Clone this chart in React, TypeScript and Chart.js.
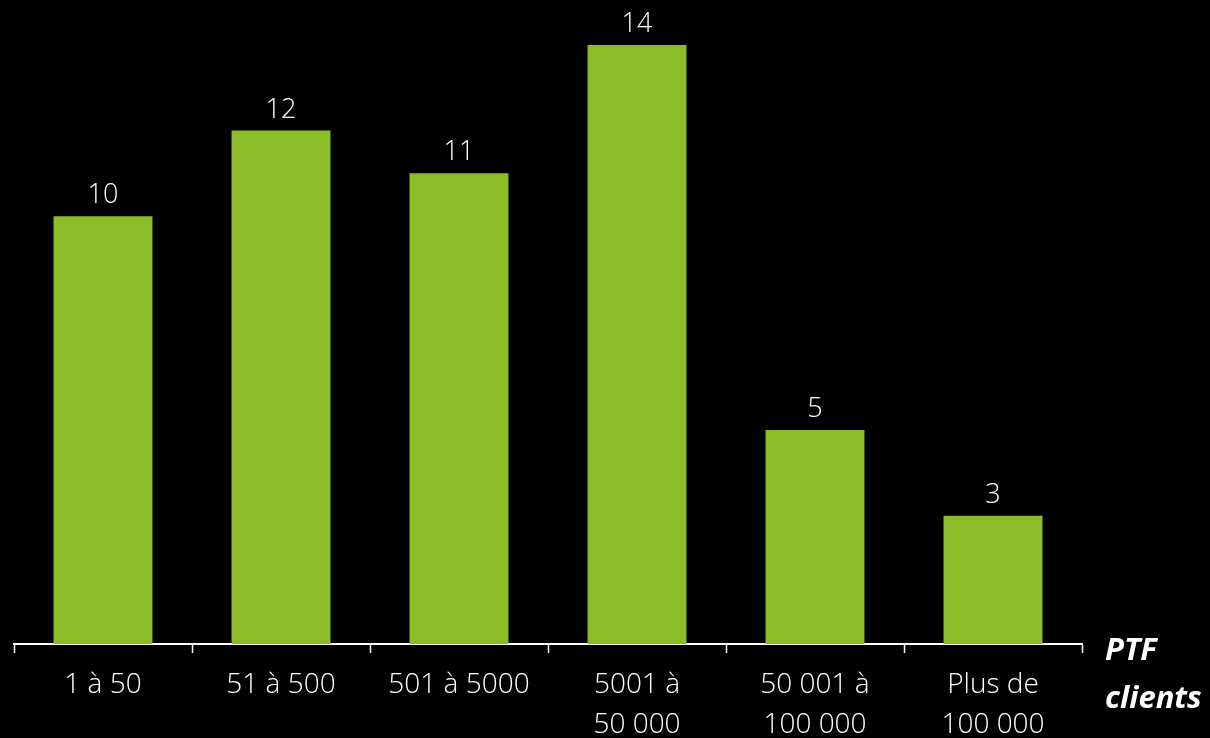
import React, { useEffect, useRef } from "react";
import { Chart, registerables } from "chart.js";

Chart.register(...registerables);

const categories: string[][] = [
  ["1 à 50"],
  ["51 à 500"],
  ["501 à 5000"],
  ["5001 à", "50 000"],
  ["50 001 à", "100 000"],
  ["Plus de", "100 000"],
];
const values: number[] = [10, 12, 11, 14, 5, 3];
const axisTitle: string[] = ["PTF", "clients"];

const FONT = "'Open Sans', 'DejaVu Sans', sans-serif";

const valueLabels = {
  id: "valueLabels",
  afterDatasetsDraw(chart: any) {
    const ctx = chart.ctx;
    const meta = chart.getDatasetMeta(0);
    ctx.save();
    ctx.fillStyle = "#ffffff";
    ctx.font = `300 27px ${FONT}`;
    ctx.textAlign = "center";
    ctx.textBaseline = "alphabetic";
    meta.data.forEach((bar: any, i: number) => {
      ctx.fillText(String(values[i]), bar.x, bar.y - 13);
    });
    ctx.restore();
  },
};

const axisTitlePlugin = {
  id: "axisTitlePlugin",
  afterDraw(chart: any) {
    const ctx = chart.ctx;
    const area = chart.chartArea;
    ctx.save();
    ctx.fillStyle = "#ffffff";
    ctx.font = `italic bold 31px ${FONT}`;
    ctx.textAlign = "left";
    ctx.textBaseline = "middle";
    ctx.fillText(axisTitle[0], area.right + 23, area.bottom + 7);
    ctx.fillText(axisTitle[1], area.right + 23, area.bottom + 55);
    ctx.restore();
  },
};

export default function App() {
  const ref = useRef<HTMLCanvasElement>(null);
  useEffect(() => {
    if (!ref.current) return;
    const chart = new Chart(ref.current, {
      type: "bar",
      data: {
        labels: categories,
        datasets: [
          {
            data: values,
            backgroundColor: "#8ABD28",
            borderWidth: 0,
            barPercentage: 1,
            categoryPercentage: 0.556,
          },
        ],
      },
      options: {
        animation: false,
        responsive: false,
        maintainAspectRatio: false,
        layout: { padding: { left: 14, right: 128, top: 45, bottom: 0 } },
        plugins: {
          legend: { display: false },
          tooltip: { enabled: false },
        },
        scales: {
          x: {
            afterFit: (scale: any) => {
              scale.height = 94;
            },
            grid: {
              display: true,
              drawOnChartArea: false,
              drawTicks: true,
              tickLength: 9,
              tickWidth: 1.5,
              tickColor: "#ffffff",
              offset: true,
            },
            border: { display: true, color: "#ffffff", width: 2 },
            ticks: {
              color: "#ffffff",
              padding: 12,
              maxRotation: 0,
              autoSkip: false,
              font: { family: FONT, size: 28, weight: "300" as any, lineHeight: 1.42 },
            },
          },
          y: {
            display: false,
            min: 0,
            max: 14,
          },
        },
      },
      plugins: [valueLabels, axisTitlePlugin],
    });
    return () => chart.destroy();
  }, []);
  return (
    <div style={{ position: "fixed", left: 0, top: 0, width: 1210, height: 738, background: "#000000" }}>
      <canvas ref={ref} width={1210} height={738} style={{ width: 1210, height: 738, display: "block" }} />
    </div>
  );
}
